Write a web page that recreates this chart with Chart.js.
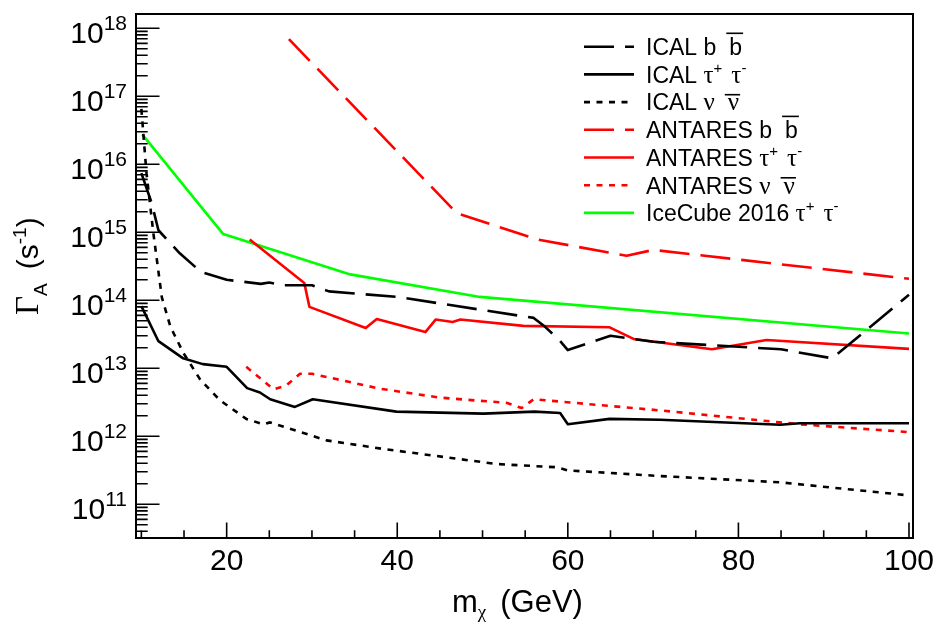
<!DOCTYPE html>
<html><head><meta charset="utf-8">
<script src="https://cdn.jsdelivr.net/npm/chart.js@4/dist/chart.umd.min.js"></script>
<style>html,body{margin:0;padding:0;background:#fff;}#wrap{width:936px;height:625px;}</style>
</head><body><div id="wrap"><canvas id="c" width="936" height="625"></canvas></div>
<script>
// ---- data (mass in GeV, annihilation rate in s^-1) ----
const icalBB_mass = [10, 11.2, 12, 14.5, 17, 20, 24, 25, 26.5, 30, 32, 40, 56, 57.3, 59, 60, 65, 70, 85, 91, 100];
const icalBB_rate = [7.4e15, 2.7e15, 1.07e15, 4.9e14, 2.6e14, 2.0e14, 1.74e14, 1.82e14, 1.66e14, 1.66e14, 1.35e14, 1.12e14, 5.5e13, 4.1e13, 2.6e13, 1.85e13, 3.0e13, 2.45e13, 1.9e13, 1.4e13, 1.2e14];

const icalTT_mass = [10, 12, 14.9, 17.2, 20, 22.4, 23.9, 25.1, 28, 30.1, 39.9, 50.1, 56.1, 59.1, 60, 64.9, 70.8, 84.9, 87.2, 100];
const icalTT_rate = [8.2e13, 2.5e13, 1.4e13, 1.15e13, 1.05e13, 5.1e12, 4.4e12, 3.5e12, 2.7e12, 3.5e12, 2.3e12, 2.15e12, 2.3e12, 2.2e12, 1.5e12, 1.8e12, 1.75e12, 1.48e12, 1.55e12, 1.55e12];

const icalNN_mass = [10, 10.6, 11.4, 12.4, 13.4, 14.9, 16.9, 19.2, 22.3, 24.3, 25.1, 31.7, 38.4, 51.7, 58.7, 60, 70.8, 84.9, 100];
const icalNN_rate = [6.5e16, 7.4e15, 9.8e14, 1.1e14, 4.1e13, 1.7e13, 6.8e12, 3.4e12, 1.8e12, 1.5e12, 1.6e12, 8.7e11, 6.5e11, 3.9e11, 3.5e11, 3.15e11, 2.6e11, 2.1e11, 1.35e11];

const antBB_mass = [27.3, 47, 56.5, 66.9, 70, 100];
const antBB_rate = [6.9e17, 1.9e15, 7.8e14, 4.5e14, 5.5e14, 2.07e14];

const antTT_mass = [22.7, 29.1, 29.7, 36.3, 37.6, 43.3, 44.5, 46.5, 47.4, 54.8, 64.9, 67.7, 76.9, 83.3, 100];
const antTT_rate = [7.8e14, 1.8e14, 8.0e13, 3.9e13, 5.3e13, 3.4e13, 5.2e13, 4.8e13, 5.2e13, 4.2e13, 4.0e13, 2.7e13, 1.9e13, 2.6e13, 1.93e13];

const antNN_mass = [22.3, 25.5, 27, 28.6, 30, 38, 45, 52.8, 54.6, 56, 70.8, 87.2, 100];
const antNN_rate = [1.05e13, 4.9e12, 5.6e12, 8.3e12, 8.3e12, 5.0e12, 3.7e12, 3.1e12, 2.6e12, 3.5e12, 2.4e12, 1.5e12, 1.15e12];

const iceTT_mass = [10.1, 19.6, 34.5, 49.7, 100];
const iceTT_rate = [2.75e16, 9.4e14, 2.4e14, 1.12e14, 3.25e13];

const seriesNames = ['ICAL b b\u0304', 'ICAL \u03c4+ \u03c4-', 'ICAL \u03bd \u03bd\u0304', 'ANTARES b b\u0304', 'ANTARES \u03c4+ \u03c4-', 'ANTARES \u03bd \u03bd\u0304', 'IceCube 2016 \u03c4+ \u03c4-'];
const xTickLabels = [20, 40, 60, 80, 100];
const yTickExponents = [11, 12, 13, 14, 15, 16, 17, 18];

// ---- styling ----
const SANS = '"Liberation Sans", Arial, sans-serif';
const SERIF = '"Liberation Serif", "Times New Roman", serif';
const LONG = [30, 11], DOT = [6, 6.5];
function pts(xs, ys) { return xs.map((x, i) => ({x: x, y: ys[i]})); }
function ds(label, xs, ys, color, dash) {
  return {label, data: pts(xs, ys), borderColor: color, backgroundColor: color, borderDash: dash,
    borderWidth: 2.6, pointRadius: 0, tension: 0, fill: false, borderCapStyle: 'butt', borderJoinStyle: 'round'};
}
const datasets = [
  ds(seriesNames[0], icalBB_mass, icalBB_rate, '#000000', LONG),
  ds(seriesNames[1], icalTT_mass, icalTT_rate, '#000000', []),
  ds(seriesNames[2], icalNN_mass, icalNN_rate, '#000000', DOT),
  ds(seriesNames[3], antBB_mass, antBB_rate, '#ff0000', LONG),
  ds(seriesNames[4], antTT_mass, antTT_rate, '#ff0000', []),
  ds(seriesNames[5], antNN_mass, antNN_rate, '#ff0000', DOT),
  ds(seriesNames[6], iceTT_mass, iceTT_rate, '#00ff00', [])
];

// rich text pieces for legend entries
function bbLabel(p) { return [{t: p + ' b'}, {gap: 13}, {t: 'b', bar: -22.5}]; }
function ttLabel(p) { return [{t: p + ' '}, {t: '\u03c4', f: '25px ' + SERIF}, {t: '+', f: '15px ' + SANS, dy: -10},
  {gap: 9}, {t: '\u03c4', f: '25px ' + SERIF}, {t: '-', f: '15px ' + SANS, dy: -10}]; }
function nnLabel(p) { return [{t: p + ' '}, {t: '\u03bd', f: '25px ' + SERIF}, {gap: 13}, {t: '\u03bd', f: '25px ' + SERIF, bar: -16.5}]; }
const legendPieces = [bbLabel('ICAL'), ttLabel('ICAL'), nnLabel('ICAL'), bbLabel('ANTARES'), ttLabel('ANTARES'), nnLabel('ANTARES'), ttLabel('IceCube 2016')];

function drawRich(ctx, pieces, x, y, baseFont) {
  let cx = x;
  for (const p of pieces) {
    if (p.gap) { cx += p.gap; continue; }
    ctx.font = p.f || baseFont;
    const w = ctx.measureText(p.t).width;
    ctx.fillText(p.t, cx, y + (p.dy || 0));
    if (p.bar !== undefined) {
      ctx.fillRect(cx - 3, y + p.bar, w + 4, 1.6);
    }
    cx += w;
  }
  return cx;
}

const rootStyle = {
  id: 'rootStyle',
  afterDraw(chart) {
    const ctx = chart.ctx, a = chart.chartArea, xs = chart.scales.x, ys = chart.scales.y;
    ctx.save();
    ctx.fillStyle = '#000'; ctx.strokeStyle = '#000';
    // frame
    ctx.lineWidth = 2;
    ctx.strokeRect(a.left, a.top, a.right - a.left, a.bottom - a.top);
    // x ticks (inside)
    ctx.lineWidth = 1.6;
    ctx.beginPath();
    for (let v = 10; v <= 100; v += 5) {
      const px = xs.getPixelForValue(v);
      const len = (v % 20 === 0) ? 15.5 : 7.8;
      ctx.moveTo(px, a.bottom); ctx.lineTo(px, a.bottom - len);
    }
    // y ticks (inside, log)
    for (let d = 10; d <= 18; d++) {
      for (let m = 1; m <= 9; m++) {
        const v = m * Math.pow(10, d);
        if (v < ys.min || v > ys.max) continue;
        const py = ys.getPixelForValue(v);
        const len = (m === 1) ? 23.5 : 11.7;
        ctx.moveTo(a.left, py); ctx.lineTo(a.left + len, py);
      }
    }
    ctx.stroke();
    // x labels
    ctx.textAlign = 'center'; ctx.textBaseline = 'alphabetic';
    ctx.font = '30px ' + SANS;
    for (const v of xTickLabels) ctx.fillText(String(v), xs.getPixelForValue(v), 570);
    // y labels 10^n
    ctx.textAlign = 'right';
    for (const e of yTickExponents) {
      const py = ys.getPixelForValue(Math.pow(10, e));
      ctx.font = '21px ' + SANS;
      const ew = ctx.measureText(String(e)).width;
      ctx.fillText(String(e), 127, py + 2);
      ctx.font = '30px ' + SANS;
      ctx.fillText('10', 127 - ew, py + 15);
    }
    // x title
    ctx.textAlign = 'left';
    drawRich(ctx, [{t: 'm'}, {t: '\u03c7', f: '19px ' + SERIF, dy: 6}, {gap: 14}, {t: '(GeV)'}], 452, 612, '31px ' + SANS);
    // y title rotated
    ctx.save();
    ctx.translate(38, 315);
    ctx.rotate(-Math.PI / 2);
    drawRich(ctx, [{t: '\u0393', f: '33px ' + SERIF}, {t: 'A', f: '19px ' + SANS, dy: 9}, {gap: 14},
      {t: '(s'}, {t: '-1', f: '19px ' + SANS, dy: -12}, {t: ')'}], 0, 0, '30px ' + SANS);
    ctx.restore();
    // legend
    chart.data.datasets.forEach((d, i) => {
      const yy = 46.7 + i * 27.7;
      ctx.save();
      ctx.strokeStyle = d.borderColor; ctx.lineWidth = d.borderWidth; ctx.setLineDash(d.borderDash || []);
      ctx.beginPath(); ctx.moveTo(584, yy); ctx.lineTo(634, yy); ctx.stroke();
      ctx.restore();
      ctx.fillStyle = '#000';
      drawRich(ctx, legendPieces[i], 646, yy + 8.3, '23px ' + SANS);
    });
    ctx.restore();
  }
};

new Chart(document.getElementById('c'), {
  type: 'line',
  data: {datasets},
  options: {
    responsive: false, animation: false, devicePixelRatio: 1,
    layout: {padding: {top: 14, right: 23, left: 0, bottom: 0}},
    plugins: {legend: {display: false}, tooltip: {enabled: false}},
    scales: {
      x: {type: 'linear', min: 9.37, max: 100.47, ticks: {display: false}, grid: {display: false}, border: {display: false},
          afterFit(s) { s.height = 87; }},
      y: {type: 'logarithmic', min: 3.19e10, max: 1.62e18, ticks: {display: false}, grid: {display: false}, border: {display: false},
          afterFit(s) { s.width = 136; }}
    }
  },
  plugins: [rootStyle]
});
</script></body></html>
